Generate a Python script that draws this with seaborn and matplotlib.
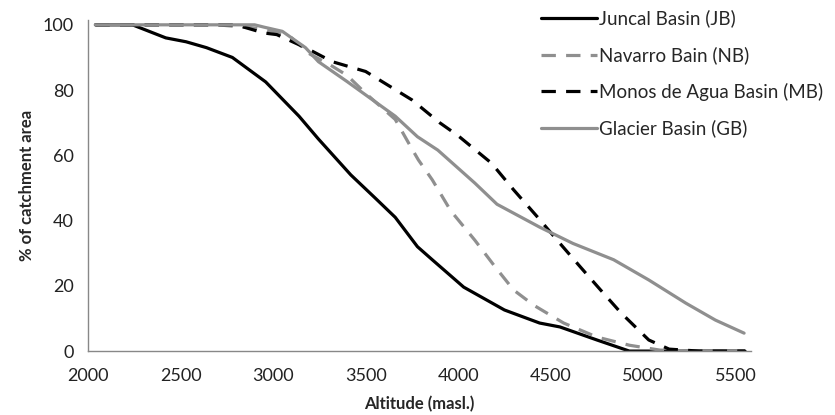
import matplotlib
matplotlib.use("Agg")
import matplotlib.pyplot as plt
import seaborn as sns
import pandas as pd

# ---- data ----
jb_alt = [2040, 2240, 2330, 2420, 2530, 2640, 2780, 2960, 3140, 3245, 3420, 3550, 3660,
          3780, 3860, 4030, 4250, 4440, 4550, 4750, 4925, 5100, 5300, 5550]
jb_pct = [100, 100, 98, 96, 94.8, 93, 90, 82.5, 72, 65, 54, 47, 41,
          32, 28, 19.6, 12.6, 8.6, 7.4, 3.4, 0, 0, 0, 0]

nb_alt = [2040, 2700, 2800, 2900, 3000, 3100, 3200, 3300, 3400, 3500, 3600, 3660, 3750,
          3785, 3860, 3960, 4090, 4200, 4300, 4410, 4570, 4750, 4925, 5090, 5300, 5550]
nb_pct = [100, 100, 99.5, 99, 98, 96, 91, 88, 84.5, 79, 74, 71, 62,
          58.6, 52.5, 43, 34, 25.8, 18.7, 14, 8.6, 4.3, 1.8, 0.3, 0, 0]

mb_alt = [2040, 2800, 2950, 3020, 3175, 3320, 3500, 3750, 3900, 4000, 4180, 4300, 4430,
          4550, 4660, 4770, 4880, 5030, 5140, 5300, 5550]
mb_pct = [100, 100, 97.5, 97, 93, 88.7, 85.7, 77, 70, 66, 57.6, 49.4, 41,
          33, 25.8, 18.7, 11.7, 3.4, 0.6, 0, 0]

gb_alt = [2040, 2900, 2950, 3050, 3175, 3245, 3400, 3660, 3780, 3890, 4090, 4210, 4440,
          4620, 4840, 5030, 5230, 5390, 5545]
gb_pct = [100, 100, 99.3, 98, 93, 88.7, 82.6, 72, 65.7, 61.6, 51.5, 45, 38,
          33, 28, 21.8, 14.7, 9.5, 5.5]

series_names = ["Juncal Basin (JB)", "Navarro Bain (NB)",
                "Monos de Agua Basin (MB)", "Glacier Basin (GB)"]
x_ticks = [2000, 2500, 3000, 3500, 4000, 4500, 5000, 5500]
y_ticks = [0, 20, 40, 60, 80, 100]

frames = []
for name, xs, ys in zip(series_names, [jb_alt, nb_alt, mb_alt, gb_alt],
                        [jb_pct, nb_pct, mb_pct, gb_pct]):
    frames.append(pd.DataFrame({"alt": xs, "pct": ys, "basin": name}))
df = pd.concat(frames, ignore_index=True)

sns.set_theme(style="white")
plt.rcParams["font.family"] = ["Lato", "DejaVu Sans"]

fig = plt.figure(figsize=(8.35, 4.15), dpi=100)
ax = fig.add_axes([0.1054, 0.154, 0.7946, 0.798])

gray = "#8f8f8f"
palette = {series_names[0]: "black", series_names[1]: gray,
           series_names[2]: "black", series_names[3]: gray}
dashes = {series_names[0]: "", series_names[1]: (4.5, 3.2),
          series_names[2]: (4.5, 3.2), series_names[3]: ""}

sns.lineplot(data=df, x="alt", y="pct", hue="basin", style="basin",
             palette=palette, dashes=dashes, hue_order=series_names,
             style_order=series_names, linewidth=2.3, sort=False,
             estimator=None, ax=ax, legend=True)

ax.set_xlim(2000, 5585)
ax.set_ylim(0, 101.5)
ax.set_xticks(x_ticks)
ax.set_yticks(y_ticks)
ax.tick_params(axis="both", which="major", labelsize=13, colors="#222222",
               length=5, width=1, direction="out", color="#888888")
ax.tick_params(axis="x", pad=7)
ax.tick_params(axis="y", pad=5)
for s in ["top", "right"]:
    ax.spines[s].set_visible(False)
for s in ["left", "bottom"]:
    ax.spines[s].set_color("#888888")
    ax.spines[s].set_linewidth(1)
ax.set_xlabel("Altitude (masl.)", fontsize=12, fontweight="bold", labelpad=9)
ax.set_ylabel("% of catchment area", fontsize=12, fontweight="bold", labelpad=6)

handles, labels = ax.get_legend_handles_labels()
ax.get_legend().remove()
fig.legend(handles, labels, loc="upper left", bbox_to_anchor=(0.639, 0.995),
           frameon=False, fontsize=13.5, handlelength=3.0, labelspacing=1.0,
           handletextpad=0.1, borderaxespad=0)

fig.savefig("out.png", dpi=100)
